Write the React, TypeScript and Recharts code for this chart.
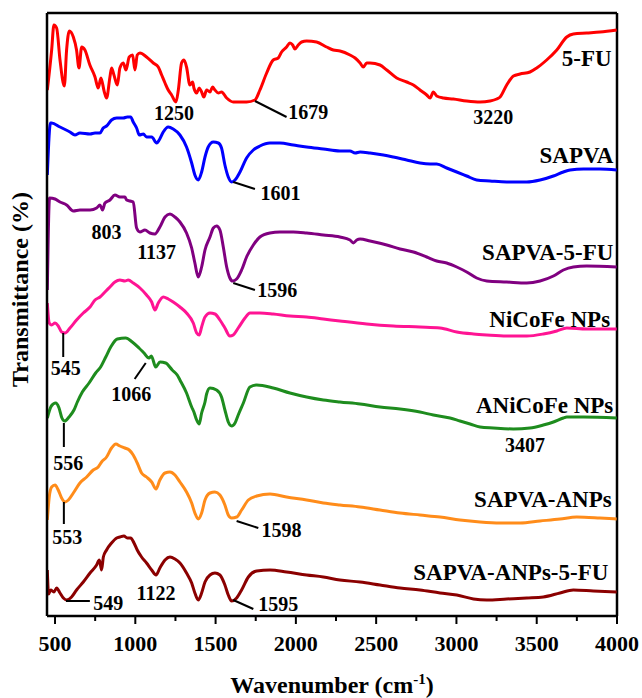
import { LineChart, Line, XAxis, YAxis, ReferenceLine, ReferenceDot } from 'recharts'

type Pt = [number, number]

// FTIR spectra, stacked with offsets (wavenumber cm-1, transmittance a.u.)
const fu5: Pt[] = [
  [452, 526], [479, 566], [493, 591], [510, 588], [531, 556], [558, 530], [572, 566], [589, 585],
  [614, 579], [634, 566], [649, 548], [666, 569], [686, 566], [717, 551], [749, 539], [769, 528],
  [786, 538], [807, 524], [821, 518], [842, 539], [852, 548], [867, 541], [888, 531], [904, 548],
  [925, 553], [942, 546], [962, 559], [983, 561], [998, 546], [1012, 561], [1029, 563], [1070, 559],
  [1112, 553], [1143, 549], [1164, 541], [1185, 533], [1205, 526], [1226, 521], [1253, 514], [1268, 526],
  [1288, 553], [1303, 556], [1319, 549], [1340, 531], [1357, 534], [1365, 528], [1382, 523], [1398, 528],
  [1413, 524], [1427, 519], [1444, 526], [1465, 524], [1481, 529], [1496, 526], [1517, 523], [1537, 524],
  [1569, 518], [1610, 514], [1693, 514], [1745, 516], [1776, 526], [1818, 543], [1859, 556], [1890, 558],
  [1911, 564], [1942, 569], [1963, 573], [1980, 571], [1994, 567], [2015, 571], [2036, 574], [2067, 575],
  [2129, 574], [2191, 569], [2233, 566], [2275, 565], [2337, 561], [2369, 558], [2400, 553], [2420, 549],
  [2441, 553], [2462, 553], [2524, 551], [2566, 546], [2628, 538], [2690, 534], [2732, 531], [2773, 526],
  [2815, 521], [2836, 518], [2856, 524], [2877, 520], [2919, 518], [2981, 517], [3064, 515], [3147, 514],
  [3209, 515], [3251, 517], [3272, 519], [3313, 531], [3355, 540], [3396, 542], [3458, 544], [3500, 548],
  [3562, 556], [3625, 566], [3687, 579], [3728, 582], [3811, 583], [3894, 584], [3998, 586],
]

const sapva: Pt[] = [
  [452, 441], [472, 493], [479, 493], [531, 489], [593, 484], [624, 481], [655, 483], [718, 482],
  [749, 483], [780, 483], [800, 488], [821, 490], [852, 496], [884, 498], [925, 498], [950, 499],
  [971, 499], [987, 494], [1008, 488], [1025, 481], [1050, 482], [1070, 479], [1102, 479], [1133, 473],
  [1149, 476], [1174, 484], [1205, 489], [1236, 487], [1278, 481], [1319, 469], [1351, 453], [1371, 441],
  [1392, 436], [1413, 444], [1434, 459], [1454, 469], [1486, 474], [1517, 473], [1537, 468], [1558, 451],
  [1579, 439], [1600, 434], [1621, 436], [1652, 444], [1693, 458], [1735, 466], [1776, 470], [1838, 473],
  [1901, 473], [1984, 471], [2067, 469], [2171, 467], [2274, 465], [2337, 465], [2369, 463], [2400, 464],
  [2462, 463], [2545, 461], [2607, 459], [2690, 456], [2773, 453], [2836, 452], [2877, 452], [2939, 448],
  [3002, 444], [3064, 440], [3126, 436], [3209, 435], [3313, 434], [3438, 434], [3521, 436], [3604, 440],
  [3666, 444], [3708, 446], [3791, 447], [3894, 447], [3998, 446],
]

const sapva5fu: Pt[] = [
  [452, 326], [466, 418], [500, 417], [531, 414], [572, 411], [614, 405], [655, 406], [718, 406],
  [759, 408], [780, 411], [796, 406], [811, 413], [842, 416], [873, 421], [904, 419], [935, 419],
  [946, 416], [967, 415], [987, 414], [1008, 388], [1029, 384], [1060, 386], [1091, 383], [1122, 382],
  [1153, 389], [1185, 399], [1216, 402], [1247, 399], [1278, 394], [1319, 383], [1351, 368], [1371, 353],
  [1392, 339], [1413, 349], [1434, 366], [1465, 379], [1486, 388], [1506, 390], [1527, 386], [1548, 369],
  [1569, 349], [1589, 338], [1606, 335], [1631, 337], [1662, 346], [1693, 359], [1735, 371], [1776, 379],
  [1838, 383], [1901, 384], [1984, 384], [2067, 383], [2171, 381], [2274, 379], [2337, 376], [2358, 373],
  [2379, 376], [2400, 377], [2462, 375], [2566, 371], [2649, 367], [2732, 364], [2815, 359], [2877, 355],
  [2939, 353], [3002, 349], [3064, 344], [3126, 338], [3189, 335], [3313, 334], [3438, 333], [3521, 335],
  [3604, 340], [3666, 346], [3728, 349], [3811, 350], [3998, 349],
]

const nicofe: Pt[] = [
  [452, 313], [464, 293], [479, 291], [500, 293], [520, 290], [541, 284], [562, 283], [593, 288],
  [634, 296], [676, 303], [718, 309], [749, 316], [780, 319], [811, 324], [842, 329], [873, 334],
  [904, 336], [935, 335], [956, 336], [987, 333], [1029, 328], [1070, 321], [1102, 314], [1122, 306],
  [1143, 313], [1174, 319], [1205, 317], [1236, 314], [1278, 309], [1319, 303], [1361, 293], [1382, 283],
  [1398, 281], [1413, 289], [1434, 299], [1465, 303], [1496, 302], [1527, 296], [1558, 288], [1589, 280],
  [1610, 281], [1641, 288], [1683, 298], [1714, 303], [1776, 303], [1859, 302], [1963, 300], [2067, 299],
  [2171, 297], [2274, 295], [2441, 292], [2607, 290], [2773, 289], [2898, 288], [3002, 284], [3106, 282],
  [3189, 281], [3313, 280], [3438, 280], [3541, 282], [3625, 285], [3687, 288], [3811, 287], [3998, 287],
]

const anicofe: Pt[] = [
  [452, 198], [477, 210], [504, 213], [525, 208], [543, 198], [560, 195], [587, 199], [618, 206],
  [639, 214], [670, 224], [712, 233], [753, 243], [784, 249], [816, 259], [847, 269], [888, 277],
  [940, 278], [981, 274], [1023, 268], [1054, 263], [1085, 258], [1100, 260], [1127, 249], [1154, 254],
  [1189, 253], [1230, 246], [1261, 241], [1278, 236], [1319, 223], [1351, 209], [1365, 204], [1382, 196],
  [1398, 192], [1413, 203], [1434, 214], [1444, 222], [1465, 228], [1506, 226], [1537, 219], [1558, 206],
  [1579, 194], [1600, 190], [1621, 193], [1641, 201], [1673, 213], [1714, 229], [1756, 231], [1859, 228],
  [1963, 223], [2067, 219], [2171, 216], [2274, 214], [2400, 212], [2524, 209], [2649, 207], [2773, 204],
  [2856, 201], [2960, 198], [3022, 195], [3085, 192], [3147, 189], [3230, 188], [3355, 187], [3458, 188],
  [3541, 191], [3604, 194], [3666, 198], [3687, 199], [3791, 199], [3998, 198],
]

const sapvaAnps: Pt[] = [
  [452, 96], [464, 119], [479, 129], [500, 131], [520, 126], [541, 118], [562, 114], [583, 116],
  [614, 123], [655, 133], [697, 139], [738, 146], [769, 149], [790, 154], [821, 159], [852, 168],
  [879, 172], [904, 170], [935, 168], [962, 166], [987, 161], [1012, 153], [1039, 143], [1070, 139],
  [1102, 134], [1129, 127], [1153, 136], [1185, 143], [1216, 144], [1247, 141], [1278, 134], [1319, 124],
  [1351, 113], [1371, 103], [1392, 97], [1413, 103], [1434, 116], [1465, 123], [1496, 124], [1527, 121],
  [1558, 111], [1579, 101], [1600, 98], [1631, 99], [1662, 106], [1704, 116], [1756, 120], [1839, 122],
  [1942, 119], [2067, 116], [2171, 113], [2274, 111], [2400, 109], [2524, 106], [2649, 103], [2773, 101],
  [2898, 99], [3022, 96], [3147, 94], [3272, 93], [3396, 93], [3521, 95], [3645, 97], [3749, 99],
  [3894, 98], [3998, 97],
]

const sapvaAnps5fu: Pt[] = [
  [452, 46], [460, 22], [473, 26], [493, 24], [510, 28], [531, 23], [552, 18], [572, 16],
  [603, 19], [634, 26], [676, 34], [718, 43], [759, 51], [776, 56], [790, 46], [801, 59],
  [821, 66], [852, 73], [884, 78], [904, 79], [929, 80], [950, 78], [971, 78], [992, 73],
  [1012, 66], [1039, 59], [1070, 53], [1102, 46], [1129, 41], [1153, 48], [1185, 56], [1216, 59],
  [1247, 57], [1278, 53], [1319, 43], [1351, 33], [1371, 23], [1392, 16], [1413, 23], [1434, 34],
  [1465, 41], [1496, 43], [1527, 41], [1558, 31], [1579, 21], [1600, 15], [1631, 18], [1662, 26],
  [1704, 39], [1756, 45], [1839, 46], [1942, 44], [2067, 41], [2171, 39], [2274, 36], [2400, 34],
  [2524, 31], [2649, 28], [2773, 26], [2898, 23], [3002, 21], [3106, 17], [3189, 16], [3313, 17],
  [3438, 18], [3541, 19], [3645, 23], [3728, 26], [3853, 25], [3998, 24],
]

const xTicks = [500, 750, 1000, 1250, 1500, 1750, 2000, 2250, 2500, 2750, 3000, 3250, 3500, 3750, 4000]

// sample names, placed right-aligned at the end of each trace
const sampleNames = ['5-FU', 'SAPVA', 'SAPVA-5-FU', 'NiCoFe NPs', 'ANiCoFe NPs', 'SAPVA-ANPs', 'SAPVA-ANPs-5-FU']
const nameWn = [3967, 3977, 3977, 3957, 3977, 3967, 3946]
const nameT = [558, 461, 364, 297, 211, 117, 44]

// peak annotations
const peakText = ['1250', '1679', '3220', '1601', '803', '1137', '1596', '545', '1066', '556', '3407', '553', '1598', '549', '1122', '1595']
const peakWn = [1241, 2077, 3230, 1905, 821, 1133, 1884, 566, 975, 583, 3427, 576, 1911, 832, 1129, 1891]
const peakT = [503, 504, 499, 423, 384, 364, 326, 248, 222, 153, 171, 79, 86, 13, 23, 12]

const leaders: [Pt, Pt][] = [
  [[1745, 515], [1942, 499]],
  [[1610, 434], [1745, 427]],
  [[1610, 333], [1745, 326]],
  [[551, 283], [551, 259]],
  [[1065, 253], [996, 237]],
  [[555, 193], [555, 169]],
  [[555, 114], [555, 92]],
  [[1631, 95], [1766, 88]],
  [[568, 15], [717, 15]],
  [[1610, 16], [1735, 7]],
]

const FONT = '"Liberation Serif", "Times New Roman", serif'

const series = [
  { name: '5-FU', data: fu5, color: '#ff0000' },
  { name: 'SAPVA', data: sapva, color: '#0000ff' },
  { name: 'SAPVA-5-FU', data: sapva5fu, color: '#800080' },
  { name: 'NiCoFe NPs', data: nicofe, color: '#ff1493' },
  { name: 'ANiCoFe NPs', data: anicofe, color: '#1e8c1e' },
  { name: 'SAPVA-ANPs', data: sapvaAnps, color: '#ff8c1a' },
  { name: 'SAPVA-ANPs-5-FU', data: sapvaAnps5fu, color: '#8b0000' },
]

const toRows = (pts: Pt[]) => pts.map(([wn, t]) => ({ wn, t }))

function WnTick({ x, y, payload }: any) {
  const major = payload.value % 500 === 0
  return (
    <g>
      <line x1={x} y1={y} x2={x} y2={y + (major ? 8 : 5)} stroke="#000" strokeWidth={2} />
      {major && (
        <text x={x} y={y + 35} textAnchor="middle" fontFamily={FONT} fontWeight="bold" fontSize={22} fill="#000">
          {payload.value}
        </text>
      )}
    </g>
  )
}

function XTitle({ viewBox }: any) {
  const cx = viewBox.x + viewBox.width / 2
  return (
    <text x={cx} y={viewBox.y + 77} textAnchor="middle" fontFamily={FONT} fontWeight="bold" fontSize={24} fill="#000">
      Wavenumber (cm
      <tspan dy={-9} fontSize={15}>-1</tspan>
      <tspan dy={9}>)</tspan>
    </text>
  )
}

function YTitle({ viewBox }: any) {
  const vb = viewBox || { x: 0, y: 13, width: 47, height: 603 }
  const cx = (vb.x ?? 0) + 28
  const cy = (vb.y ?? 13) + (vb.height ?? 603) / 2 - 25
  return (
    <text
      x={cx}
      y={cy}
      transform={`rotate(-90 ${cx} ${cy})`}
      textAnchor="middle"
      fontFamily={FONT}
      fontWeight="bold"
      fontSize={24}
      fill="#000"
    >
      Transmittance (%)
    </text>
  )
}

export default function App() {
  return (
    <div style={{ position: 'absolute', left: 0, top: 0, background: '#fff' }}>
      <LineChart width={642} height={698} margin={{ top: 13, right: 25, left: 0, bottom: 0 }}>
        <XAxis
          dataKey="wn"
          type="number"
          domain={[450, 4000]}
          ticks={xTicks}
          interval={0}
          allowDataOverflow
          height={82}
          tickSize={0}
          tickMargin={0}
          tickLine={false}
          tick={<WnTick />}
          axisLine={{ stroke: '#000', strokeWidth: 2.5 }}
          label={<XTitle />}
        />
        <YAxis
          type="number"
          domain={[0, 603]}
          width={47}
          tick={false}
          tickLine={false}
          axisLine={{ stroke: '#000', strokeWidth: 2.5 }}
          label={<YTitle />}
        />
        <ReferenceLine y={603} stroke="#000" strokeWidth={2.5} />
        <ReferenceLine x={4000} stroke="#000" strokeWidth={2.5} />

        {series.map((s) => (
          <Line
            key={s.name}
            data={toRows(s.data)}
            dataKey="t"
            name={s.name}
            type="monotone"
            stroke={s.color}
            strokeWidth={3}
            dot={false}
            activeDot={false}
            isAnimationActive={false}
          />
        ))}

        {leaders.map(([a, b], i) => (
          <ReferenceLine
            key={`ld${i}`}
            segment={[{ x: a[0], y: a[1] }, { x: b[0], y: b[1] }]}
            stroke="#000"
            strokeWidth={2}
          />
        ))}

        {peakText.map((txt, i) => (
          <ReferenceDot
            key={`pk${i}`}
            x={peakWn[i]}
            y={peakT[i]}
            r={0}
            stroke="none"
            fill="none"
            label={{
              value: txt,
              position: 'center',
              fill: '#000',
              fontSize: 20,
              fontWeight: 'bold',
              fontFamily: FONT,
            }}
          />
        ))}

        {sampleNames.map((nm, i) => (
          <ReferenceDot
            key={`nm${i}`}
            x={nameWn[i]}
            y={nameT[i]}
            r={0}
            stroke="none"
            fill="none"
            label={{
              value: nm,
              position: 'left',
              offset: 0,
              fill: '#000',
              fontSize: 23,
              fontWeight: 'bold',
              fontFamily: FONT,
            }}
          />
        ))}
      </LineChart>
    </div>
  )
}
